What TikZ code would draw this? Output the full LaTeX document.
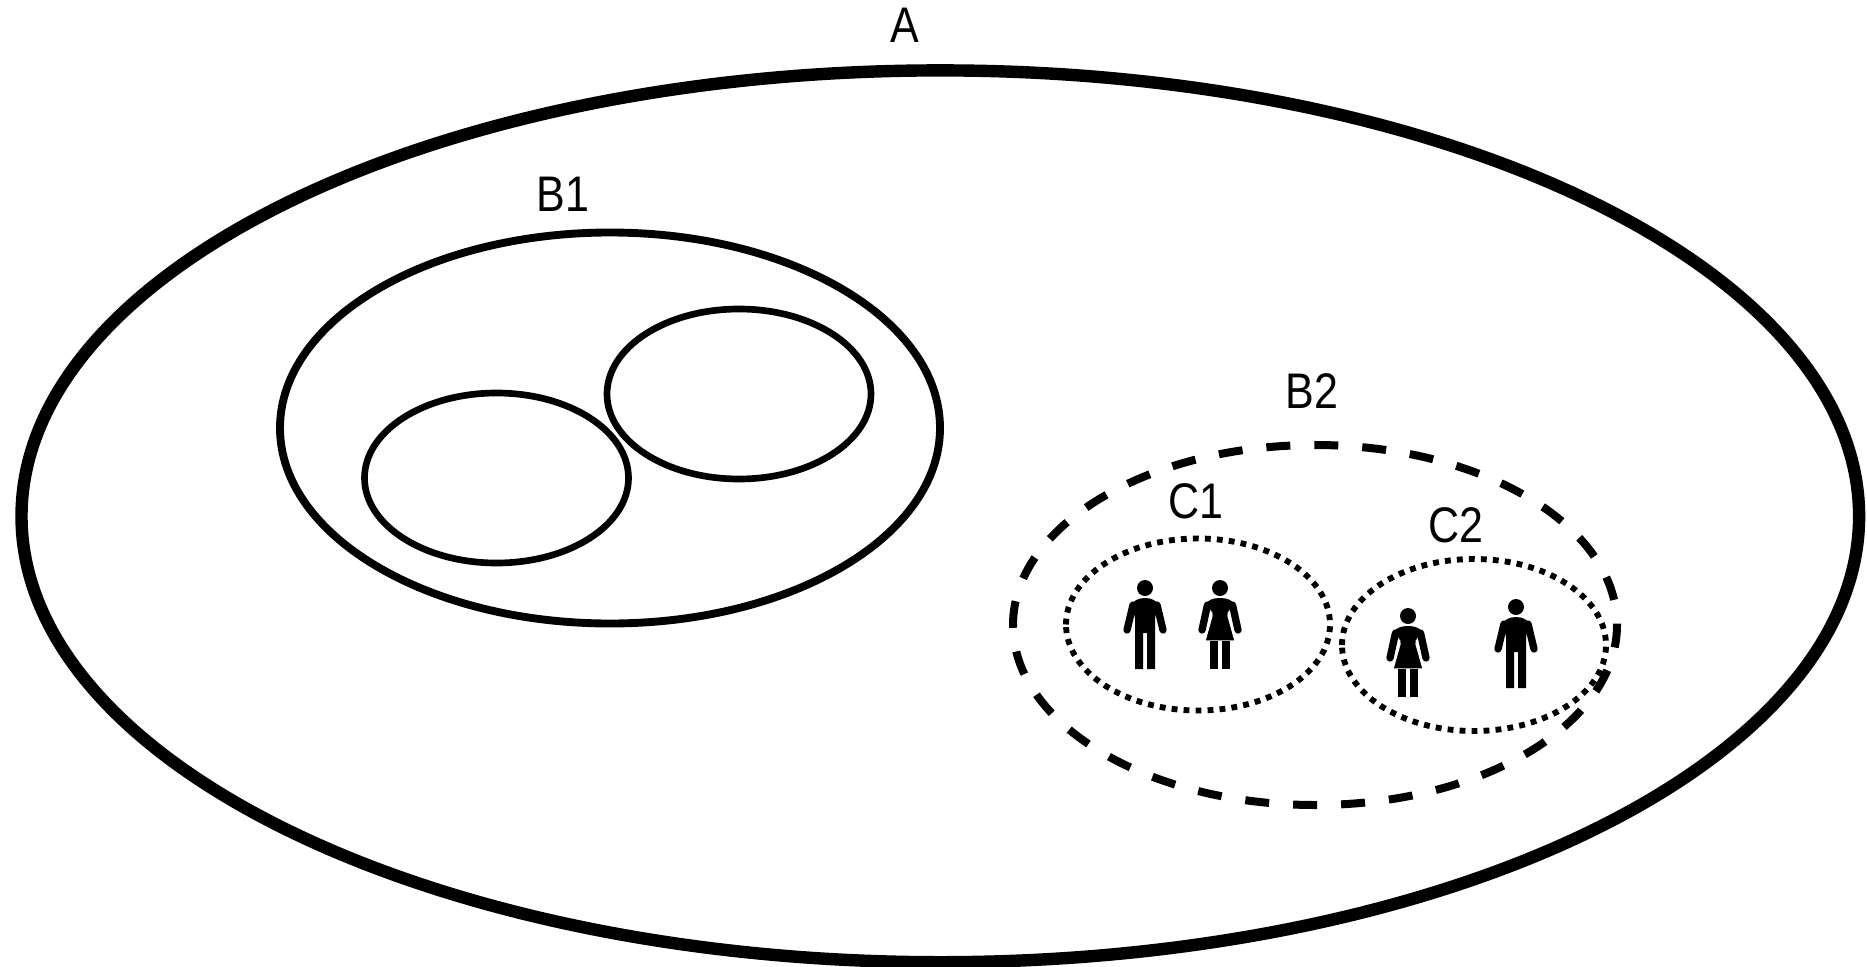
\documentclass[tikz,border=0pt]{standalone}
\usepackage{fontspec}
\setmainfont[FakeStretch=0.86]{Liberation Sans}
\tikzset{
  px/.style={x=0.75pt,y=-0.75pt},
  ringA/.style={draw=black,line width=9.3pt},
  ringB/.style={draw=black,line width=5.9pt},
  ringInner/.style={draw=black,line width=5pt},
  ringDash/.style={draw=black,line width=6pt,dash pattern=on 18pt off 18pt},
  ringDot/.style={draw=black,line width=4.4pt,dash pattern=on 4.4pt off 4.6pt},
  lbl/.style={font=\fontsize{37.5}{40}\selectfont,inner sep=0pt,anchor=center},
}
\newcommand{\ring}[5]{\draw[#1] (#2-#4,#3) arc[start angle=180,end angle=-180,x radius=#4*0.75pt,y radius=#5*0.75pt];}
\newcommand{\personman}[2]{%
\begin{scope}[shift={(#1,#2)}]
\fill (0,0) circle[radius=8];
\draw[line width=5.5pt,line cap=round] (-12,17) -- (-18,42);
\draw[line width=5.5pt,line cap=round] (12,17) -- (18,42);
\fill (-10,81) -- (-10,30) -- (-13,17) .. controls (-12,13) and (-7,10) .. (0,10) .. controls (7,10) and (12,13) .. (13,17) -- (10,30) -- (10,81) -- (2,81) -- (2,45) -- (-2,45) -- (-2,81) -- cycle;
\end{scope}}
\newcommand{\personwoman}[2]{%
\begin{scope}[shift={(#1,#2)}]
\fill (0,0) circle[radius=8];
\draw[line width=5.5pt,line cap=round] (-12.5,17) -- (-18,42);
\draw[line width=5.5pt,line cap=round] (12.5,17) -- (18,42);
\filldraw[draw=white,line width=0.9pt,fill=black] (-15,53) -- (-8,28) -- (-9,17) .. controls (-8,11) and (-4,10) .. (0,10) .. controls (4,10) and (8,11) .. (9,17) -- (8,28) -- (15,53) -- cycle;
\fill (-14,16) .. controls (-12,12) and (-7,10) .. (0,10) .. controls (7,10) and (12,12) .. (14,16) -- (8,24) -- (-8,24) -- cycle;
\fill (-10,53) rectangle (-2,81);
\fill (2,53) rectangle (10,81);
\end{scope}}
\begin{document}
\begin{tikzpicture}[px]
\useasboundingbox (0,0) rectangle (1867,967);
\ring{ringA}{940.3}{516.3}{918.8}{445.9}
\ring{ringB}{610}{428}{330}{195.5}
\ring{ringInner}{496.5}{478}{132}{85}
\ring{ringInner}{739}{394}{132}{85}
\ring{ringDash}{1315}{625}{302}{180}
\ring{ringDot}{1198}{624.5}{132}{86}
\ring{ringDot}{1474}{645}{132}{86}
\personman{1145}{588}
\personwoman{1220}{588}
\personwoman{1408}{616}
\personman{1516}{607}
\node[lbl] (la) at (905,25) {A};
\node[lbl] (lb1) at (563,194) {B1};
\node[lbl] (lb2) at (1312,391) {B2};
\node[lbl] (lc1) at (1196,501) {C1};
\node[lbl] (lc2) at (1456,525) {C2};
\end{tikzpicture}
\end{document}
